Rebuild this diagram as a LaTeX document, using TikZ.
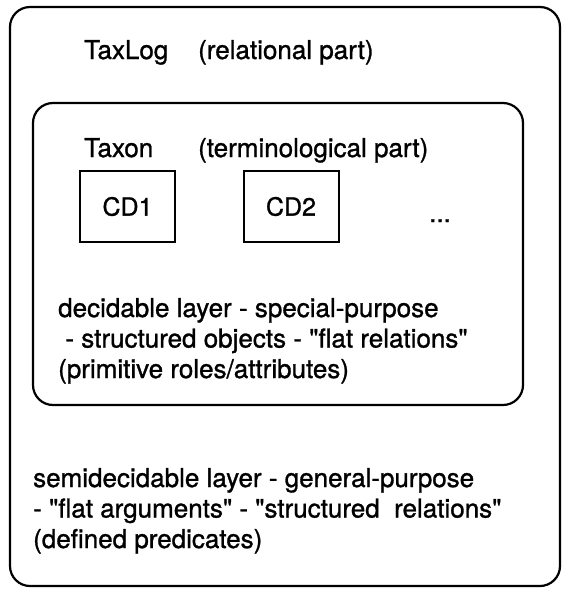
\documentclass[tikz,border=0pt]{standalone}
\usepackage{fontspec}
\setmainfont{TeX Gyre Heros}
% slightly heavier strokes, as in a photocopied Helvetica
\newfontfamily\heavyfont[FakeBold=1.1]{TeX Gyre Heros}
\begin{document}
\begin{tikzpicture}[x=1pt,y=-1pt,
  frame/.style={draw, line width=2.2pt, rounded corners=20pt, inner sep=0pt},
  cdbox/.style={draw, line width=2pt, inner sep=0pt,
    minimum width=95pt, minimum height=71pt,
    font={\heavyfont\fontsize{25}{30}\selectfont}},
  txt/.style={font={\heavyfont\fontsize{26}{30.5}\selectfont}, align=left,
    inner sep=0pt, anchor=base west}]
\useasboundingbox (0,0) rectangle (565,590);

% outer frame: TaxLog
\node[frame, minimum width=550pt, minimum height=579pt] (outer) at (285,296.5) {};
% inner frame: Taxon
\node[frame, minimum width=490pt, minimum height=302pt] (inner) at (278,254) {};

% titles
\node[txt] (taxlog) at (84,59) {TaxLog};
\node[txt] (taxlogpart) at (198,59) {(relational part)};
\node[txt] (taxon) at (84,157) {Taxon};
\node[txt] (taxonpart) at (198,157) {(terminological part)};

% concrete domains
\node[cdbox] (cd1) at (127.5,206.5) {CD1};
\node[cdbox] (cd2) at (291,206.5) {CD2};
\node[txt, anchor=base] (more) at (440,222) {...};

% layer descriptions (base anchor = baseline of the last line)
\node[txt] (decidable) at (58,378) {decidable layer - special-purpose\\
\ - structured objects - \textquotedbl flat relations\textquotedbl\\
(primitive roles/attributes)};
\node[txt] (semidecidable) at (33,548) {semidecidable layer - general-purpose\\
- \textquotedbl flat arguments\textquotedbl\ - \textquotedbl structured\ \ relations\textquotedbl\\
(defined predicates)};
\end{tikzpicture}
\end{document}
